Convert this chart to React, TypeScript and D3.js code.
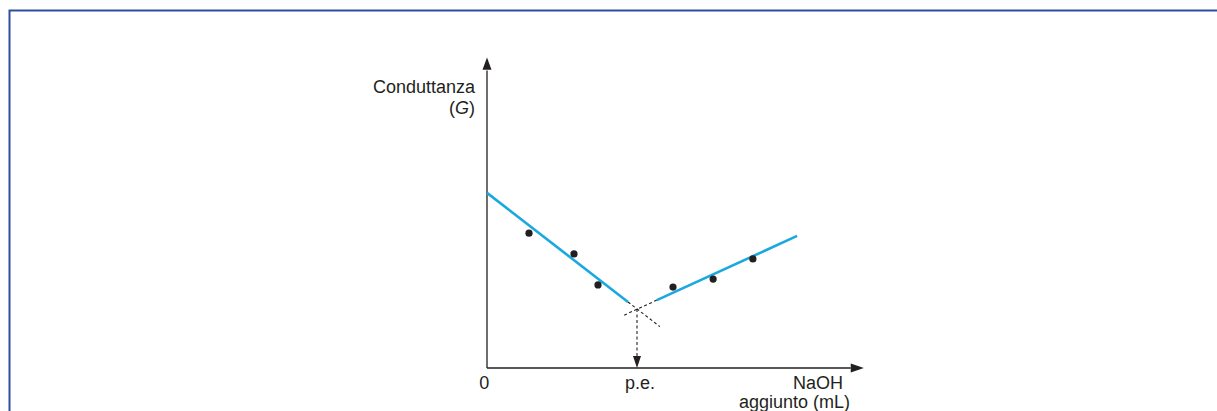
import React, { useRef, useEffect } from 'react';
import * as d3 from "d3";

// measured points (mL of NaOH, conductance)
const points = [
  { ml: 1.12, g: 4.35 },
  { ml: 2.32, g: 3.68 },
  { ml: 2.96, g: 2.68 },
  { ml: 4.96, g: 2.61 },
  { ml: 6.03, g: 2.87 },
  { ml: 7.09, g: 3.52 },
];

// fitted lines: solid part and dashed extension
const line1 = [{ ml: 0, g: 5.65 }, { ml: 3.76, g: 2.13 }];
const line1Ext = [{ ml: 3.76, g: 2.13 }, { ml: 4.61, g: 1.335 }];
const line2 = [{ ml: 4.53, g: 2.19 }, { ml: 8.27, g: 4.26 }];
const line2Ext = [{ ml: 4.53, g: 2.19 }, { ml: 3.63, g: 1.69 }];

// equivalence point
const eqPoint = { ml: 4.0, g: 1.9 };

const xLabels = [{ ml: -0.07, text: "0" }, { ml: 4.08, text: "p.e." }];

const App = () => {
  const ref = useRef<SVGSVGElement>(null);

  useEffect(() => {
    const width = 1217;
    const height = 411;
    const font = "'Liberation Sans', Arial, sans-serif";
    const fontSize = 18;

    const x = d3.scaleLinear().domain([0, 10]).range([487, 862]);
    const y = d3.scaleLinear().domain([0, 10]).range([368, 58]);

    const svg = d3.select(ref.current)
      .attr("width", width)
      .attr("height", height);
    svg.selectAll("*").remove();

    // frame
    svg.append("path")
      .attr("d", `M9.5,${height} L9.5,10.5 L${width},10.5`)
      .attr("fill", "none")
      .attr("stroke", "#2e4f9f")
      .attr("stroke-width", 2);

    const line = d3.line<{ ml: number; g: number }>()
      .x((d) => x(d.ml))
      .y((d) => y(d.g));

    // axes
    const x0 = x(0), y0 = y(0);
    svg.append("line")
      .attr("x1", x0).attr("y1", y0)
      .attr("x2", x0).attr("y2", y(9.6))
      .attr("stroke", "#231f20").attr("stroke-width", 1.3);
    svg.append("path")
      .attr("d", `M${x0},${y(10.02)} L${x0 - 4.5},${y(9.62)} L${x0 + 4.5},${y(9.62)} Z`)
      .attr("fill", "#231f20");
    svg.append("line")
      .attr("x1", x0).attr("y1", y0)
      .attr("x2", x(9.7)).attr("y2", y0)
      .attr("stroke", "#231f20").attr("stroke-width", 1.3);
    svg.append("path")
      .attr("d", `M${x(10.05)},${y0} L${x(9.7)},${y0 - 4.5} L${x(9.7)},${y0 + 4.5} Z`)
      .attr("fill", "#231f20");

    // dashed extensions
    [line1Ext, line2Ext].forEach((seg) => {
      svg.append("path")
        .attr("d", line(seg))
        .attr("fill", "none")
        .attr("stroke", "#231f20")
        .attr("stroke-width", 1.1)
        .attr("stroke-dasharray", "3,2.5");
    });

    // dashed drop to the x-axis
    svg.append("line")
      .attr("x1", x(eqPoint.ml)).attr("y1", y(eqPoint.g))
      .attr("x2", x(eqPoint.ml)).attr("y2", y0 - 11)
      .attr("stroke", "#231f20")
      .attr("stroke-width", 1.1)
      .attr("stroke-dasharray", "3,2.5");
    svg.append("path")
      .attr("d", `M${x(eqPoint.ml)},${y0} L${x(eqPoint.ml) - 4},${y0 - 12} L${x(eqPoint.ml) + 4},${y0 - 12} Z`)
      .attr("fill", "#231f20");

    // fitted lines
    [line1, line2].forEach((seg) => {
      svg.append("path")
        .attr("d", line(seg))
        .attr("fill", "none")
        .attr("stroke", "#1aa8e0")
        .attr("stroke-width", 2.6);
    });

    // data points
    svg.selectAll()
      .data(points)
      .enter()
      .append("circle")
        .attr("cx", (d) => x(d.ml))
        .attr("cy", (d) => y(d.g))
        .attr("r", 3.6)
        .attr("fill", "#231f20");

    // x labels
    svg.selectAll()
      .data(xLabels)
      .enter()
      .append("text")
        .attr("x", (d) => x(d.ml))
        .attr("y", y0 + 21)
        .attr("text-anchor", "middle")
        .attr("font-family", font)
        .attr("font-size", fontSize)
        .attr("fill", "#231f20")
        .text((d) => d.text);

    svg.append("text")
      .attr("x", 843).attr("y", y0 + 21)
      .attr("text-anchor", "end")
      .attr("font-family", font).attr("font-size", fontSize).attr("fill", "#231f20")
      .text("NaOH");
    svg.append("text")
      .attr("x", 850).attr("y", y0 + 40)
      .attr("text-anchor", "end")
      .attr("font-family", font).attr("font-size", fontSize).attr("fill", "#231f20")
      .text("aggiunto (mL)");

    // y label
    svg.append("text")
      .attr("x", 475).attr("y", 93)
      .attr("text-anchor", "end")
      .attr("font-family", font).attr("font-size", fontSize).attr("fill", "#231f20")
      .text("Conduttanza");
    const g = svg.append("text")
      .attr("x", 475).attr("y", 114)
      .attr("text-anchor", "end")
      .attr("font-family", font).attr("font-size", fontSize).attr("fill", "#231f20");
    g.append("tspan").text("(");
    g.append("tspan").attr("font-style", "italic").text("G");
    g.append("tspan").text(")");
  }, []);

  return (
    <svg ref={ref} style={{ position: "absolute", left: 0, top: 0 }} />
  );
};

export default App;
